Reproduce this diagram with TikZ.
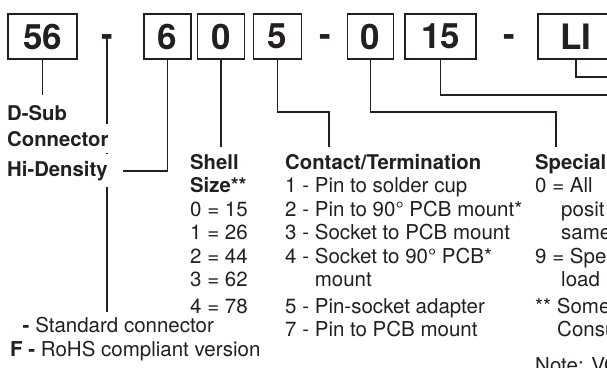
\documentclass[tikz,border=0pt]{standalone}
\usepackage{fontspec}
\setmainfont{TeX Gyre Heros}
\usetikzlibrary{positioning}
\definecolor{ink}{HTML}{231F20}
\tikzset{
  lead/.style={draw=ink,line width=1.8pt},
  codebox/.style={draw=ink,line width=1.8pt,minimum height=45pt,inner sep=0pt,
                  text=ink,font=\fontsize{35}{35}\selectfont\bfseries},
  sepdash/.style={inner sep=0pt,text=ink,font=\fontsize{35}{35}\selectfont\bfseries},
  keyhead/.style={inner sep=0pt,text=ink,anchor=base west,font=\fontsize{20.3}{22}\selectfont\bfseries},
  keyhide/.style={keyhead,fill=white,inner xsep=3pt,inner ysep=7pt},
  keylist/.style={inner sep=0pt,outer ysep=7pt,text=ink,align=left,anchor=north west,
                  font=\fontsize{20.5}{23.5}\selectfont}
}
\newcommand{\hd}[1]{{\fontsize{20.3}{23.5}\selectfont\bfseries #1}}
\begin{document}
\begin{tikzpicture}[x=1pt,y=-1pt]
  \path[use as bounding box,clip] (0,0) rectangle (607,367);
  % part number boxes
  \node[codebox,minimum width=69pt] (b56) at (42.5,36.5) {56};
  \node[sepdash] (dashA) at (107,41) {-};
  \node[codebox,minimum width=47pt] (bsix) at (167.5,36.5) {6};
  \node[codebox,minimum width=47pt] (bzeroA) at (221,36.5) {0};
  \node[codebox,minimum width=48pt] (bfive) at (277.5,36.5) {5};
  \node[sepdash] (dashB) at (325,41) {-};
  \node[codebox,minimum width=46pt] (bzeroB) at (370.5,36.5) {0};
  \node[codebox,minimum width=71pt] (bfifteen) at (440.5,36.5) {15};
  \node[sepdash] (dashC) at (509,41) {-};
  \node[codebox,minimum width=76pt] (bLI) at (576,36.5) {LI};
  % turning points
  \coordinate (kContact) at (329,112);
  \coordinate (kSpecial) at (556,112);
  \coordinate (kOutA) at (615,95);
  \coordinate (kOutB) at (615,77);
  % key texts
  \node[keylist,outer ysep=5pt,font=\fontsize{20.5}{24}\selectfont] (lStd) at (10,312)
    {\hphantom{\bfseries F}{\bfseries -} Standard connector\\{\bfseries F -} RoHS compliant version};
  \draw[lead] (dashA.north) -- (dashA.north |- lStd.north);
  \node[keyhead] (lDsub) at (7,120) {D-Sub};
  \node[keyhide,anchor=base west] (lConn) at (4,146) {Connector};
  \node[keyhide,anchor=base west] (lHi) at (4,176) {Hi-Density};
  \node[keylist] (lShell) at (190,147)
    {\hd{Shell}\\\hd{Size**}\\0 = 15\\1 = 26\\2 = 44\\3 = 62\\[3pt]4 = 78};
  \node[keylist] (lContact) at (285,147)
    {\hd{Contact/Termination}\\1 - Pin to solder cup\\2 - Pin to 90° PCB mount*\\
     3 - Socket to PCB mount\\4 - Socket to 90° PCB*\\\hphantom{4 - }mount\\[3pt]
     5 - Pin-socket adapter\\7 - Pin to PCB mount};
  \node[keylist] (lSpecial) at (535,147)
    {\hd{Special}\\0 = All\\\hspace*{26pt}posit\\\hspace*{26pt}same\\9 = Spec\\
     \hspace*{26pt}load\\[3pt]** Some\\\hspace*{22pt}Consu\\[12pt]Note: VG};
  % leaders
  \draw[lead,shorten >=10pt] (b56.south) -- (b56.south |- lDsub.north);
  \draw[lead] (bsix.south) |- ([xshift=12pt]lHi.east);
  \draw[lead] (bzeroA.south) -- (bzeroA.south |- lShell.north);
  \draw[lead] (bfive.south) |- (kContact) -- (kContact |- lContact.north);
  \draw[lead] (bzeroB.south) |- (kSpecial) -- (kSpecial |- lSpecial.north);
  \draw[lead] (bfifteen.south) |- (kOutA);
  \draw[lead] (bLI.south) |- (kOutB);
\end{tikzpicture}
\end{document}
